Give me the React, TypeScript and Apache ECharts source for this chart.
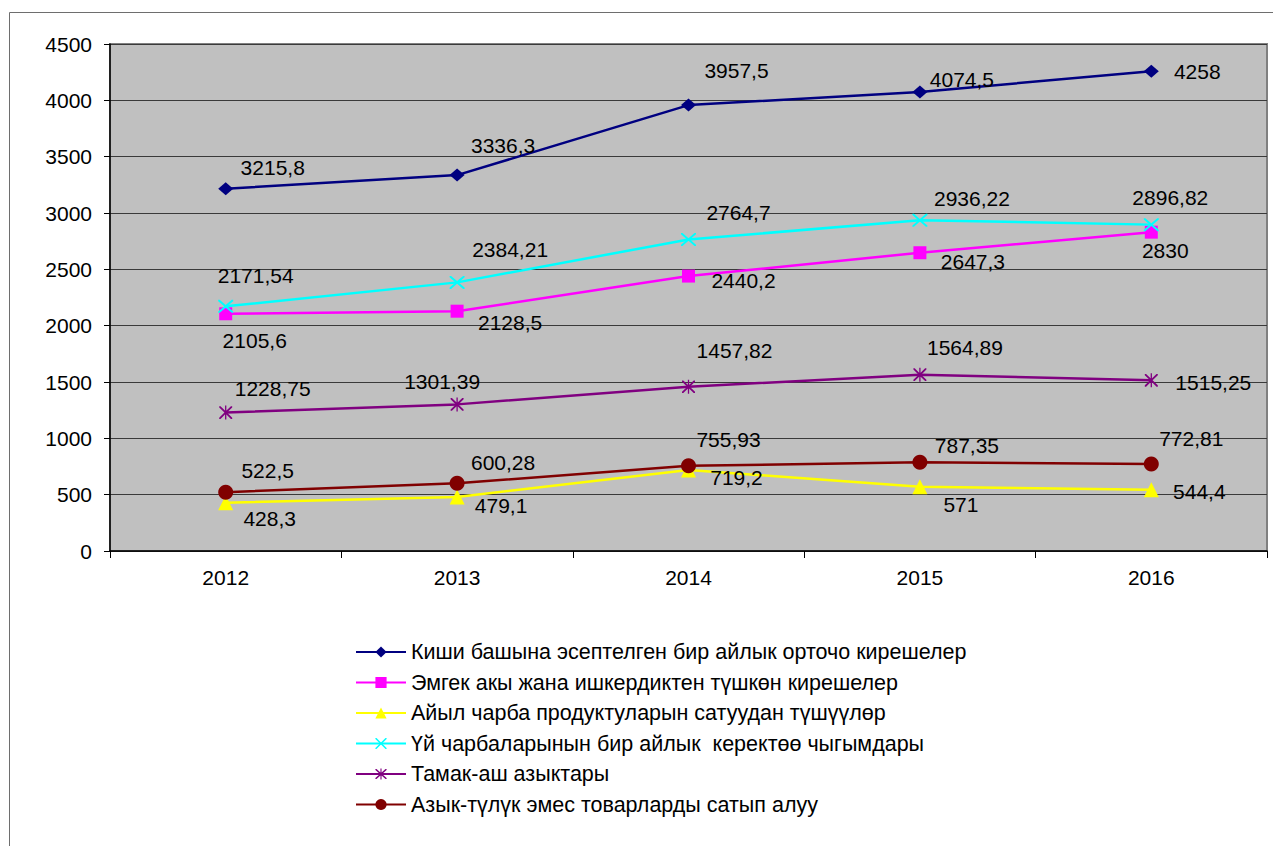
import React, { useEffect, useRef } from "react";
import * as echarts from "echarts";

const years = ["2012", "2013", "2014", "2015", "2016"];
const seriesNames = [
  "Киши башына эсептелген бир айлык орточо кирешелер",
  "Эмгек акы жана ишкердиктен түшкөн кирешелер",
  "Айыл чарба продуктуларын сатуудан түшүүлөр",
  "Үй чарбаларынын бир айлык  керектөө чыгымдары",
  "Тамак-аш азыктары",
  "Азык-түлүк эмес товарларды сатып алуу",
];
const incomePerCapita = [3215.8, 3336.3, 3957.5, 4074.5, 4258];
const wageIncome = [2105.6, 2128.5, 2440.2, 2647.3, 2830];
const agriSales = [428.3, 479.1, 719.2, 571, 544.4];
const consumption = [2171.54, 2384.21, 2764.7, 2936.22, 2896.82];
const foodSpend = [1228.75, 1301.39, 1457.82, 1564.89, 1515.25];
const nonFoodSpend = [522.5, 600.28, 755.93, 787.35, 772.81];
const yTicks = [0, 500, 1000, 1500, 2000, 2500, 3000, 3500, 4000, 4500];

// label offsets (pixels from marker centre)
const labelOffsets = [
  [[47, -21], [46, -30], [48, -35], [42, -12], [46, 0]],
  [[29, 27], [53, 11], [55, 4], [53, 9], [14, 18]],
  [[44, 16], [44, 8], [48, 8], [41, 18], [48, 2]],
  [[30, -31], [53, -33], [50, -27], [52, -22], [19, -27]],
  [[47, -24], [-15, -23], [46, -36], [45, -27], [62, 2]],
  [[42, -22], [46, -21], [40, -26], [47, -17], [40, -25]],
];

const colors = ["#000080", "#FF00FF", "#FFFF00", "#00FFFF", "#800080", "#800000"];
const X_PATH =
  "path://M0,0 L2,0 L10,8 L18,0 L20,0 L20,2 L12,10 L20,18 L20,20 L18,20 L10,12 L2,20 L0,20 L0,18 L8,10 L0,2 Z";
const STAR_PATH =
  "path://M0,0 L2,0 L10,8 L18,0 L20,0 L20,2 L12,10 L20,18 L20,20 L18,20 L10,12 L2,20 L0,20 L0,18 L8,10 L0,2 Z M9,-1 L11,-1 L11,21 L9,21 Z";
const symbols = ["diamond", "rect", "triangle", X_PATH, STAR_PATH, "circle"];
const symbolSizes: any[] = [[15, 13], 13, 15, [15, 13], [13, 14], 15];

const FONT = "'Liberation Sans', Arial, sans-serif";

export default function App() {
  const ref = useRef<HTMLDivElement>(null);
  useEffect(() => {
    if (!ref.current) return;
    const chart = echarts.init(ref.current, null, { renderer: "svg" });
    const all = [incomePerCapita, wageIncome, agriSales, consumption, foodSpend, nonFoodSpend];
    const series = all.map((vals, si) => ({
      name: seriesNames[si],
      type: "line",
      data: vals.map((v, i) => ({
        value: v,
        label: { offset: labelOffsets[si][i] },
      })),
      symbol: symbols[si],
      symbolSize: symbolSizes[si],
      lineStyle: { color: colors[si], width: 2.5 },
      itemStyle: { color: colors[si] },
      label: {
        show: true,
        position: "inside",
        align: "center",
        verticalAlign: "middle",
        color: "#000",
        fontSize: 21,
        fontFamily: FONT,
        formatter: (p: any) => String(p.value).replace(".", ","),
      },
      z: 2 + si,
    }));
    chart.setOption({
      animation: false,
      backgroundColor: "#fff",
      textStyle: { fontFamily: FONT },
      graphic: [
        {
          type: "rect",
          shape: { x: 9.5, y: 12.5, width: 1300, height: 900 },
          style: { fill: "none", stroke: "#6e6e6e", lineWidth: 1 },
          silent: true,
          z: -1,
        },
      ],
      grid: {
        left: 110,
        top: 44,
        width: 1157,
        height: 507,
        show: true,
        backgroundColor: "#C0C0C0",
        borderColor: "#808080",
        borderWidth: 2,
      },
      legend: {
        orient: "vertical",
        left: 355,
        top: 641,
        padding: 0,
        itemWidth: 50,
        itemHeight: 14,
        itemGap: 8.5,
        textStyle: { fontSize: 21.5, fontFamily: FONT, color: "#000", lineHeight: 21.5 },
        data: seriesNames,
      },
      xAxis: {
        type: "category",
        data: years,
        boundaryGap: true,
        axisLine: { show: true, lineStyle: { color: "#000", width: 1.5 } },
        axisTick: { show: true, length: 7, lineStyle: { color: "#000" } },
        axisLabel: { fontSize: 21, color: "#000", fontFamily: FONT, margin: 16 },
        splitLine: { show: false },
      },
      yAxis: {
        type: "value",
        min: yTicks[0],
        max: yTicks[yTicks.length - 1],
        interval: 500,
        axisLine: { show: true, lineStyle: { color: "#000", width: 1.5 } },
        axisTick: { show: true, length: 6, lineStyle: { color: "#000" } },
        axisLabel: {
          fontSize: 21,
          color: "#000",
          fontFamily: FONT,
          margin: 18,
          formatter: (v: number) => String(v),
        },
        splitLine: { show: true, lineStyle: { color: "#3a3a3a", width: 1 } },
      },
      series,
    });
    return () => chart.dispose();
  }, []);
  return (
    <div
      ref={ref}
      style={{ position: "absolute", left: 0, top: 0, width: 1273, height: 846 }}
    />
  );
}
